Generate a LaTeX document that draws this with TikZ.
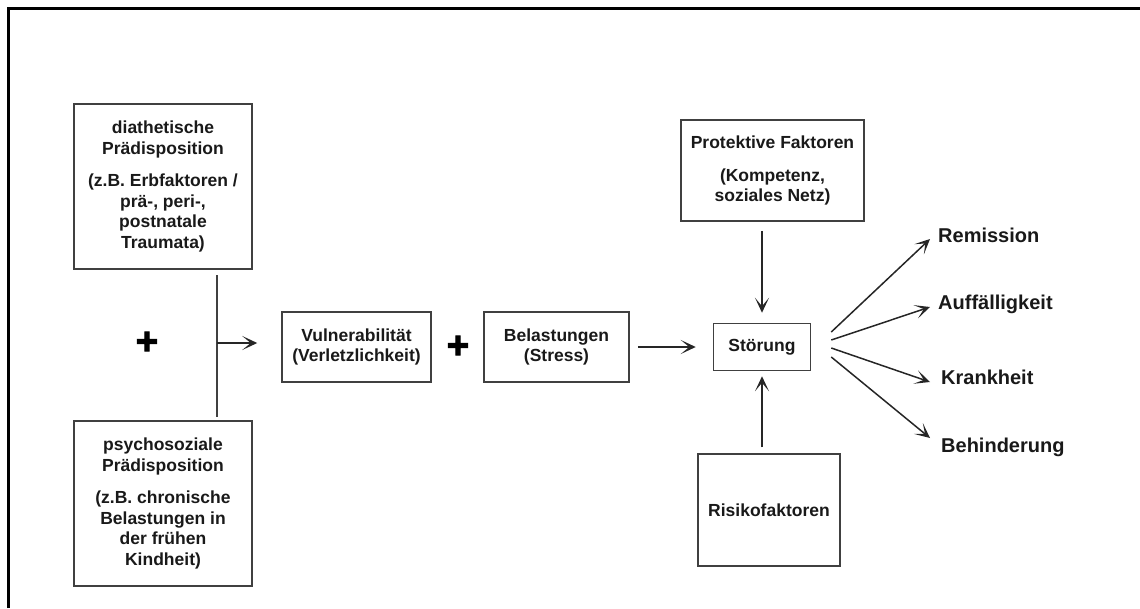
\documentclass[tikz,border=0pt]{standalone}
\usepackage{fontspec}
\setmainfont{Liberation Sans}
\newfontfamily\plusfont[FakeBold=3]{Liberation Sans Bold}
\usetikzlibrary{arrows.meta}

\begin{document}
\begin{tikzpicture}[x=1pt,y=-1pt,
	kasten/.style={draw=black!75, line width=1.5pt, align=center, inner sep=0pt, text=black!90, font=\bfseries\fontsize{17.5}{20.5}\selectfont},
	pfeil/.style={draw=black!85, line width=1.5pt, -{Stealth[length=15pt,width=14pt,inset=8.5pt]}},
	ausgang/.style={anchor=west, inner sep=0pt, text height=15pt, text depth=4pt, text=black!90, font=\bfseries\fontsize{20}{24}\selectfont},
	pluszeichen/.style={inner sep=0pt, font=\plusfont\fontsize{38}{38}\selectfont}]
		\useasboundingbox (0,0) rectangle (1140,608);
		\draw[line width=3pt] (8,608) -- (8,8) -- (1140,8);

		\node[kasten, minimum width=178pt, minimum height=165pt] (diath) at (163,186.5) {diathetische\\Prädisposition\\[12pt](z.B. Erbfaktoren /\\prä-, peri-,\\postnatale\\Traumata)};
		\node[kasten, minimum width=178pt, minimum height=165pt] (psych) at (163,503.5) {psychosoziale\\Prädisposition\\[12pt](z.B. chronische\\Belastungen in\\der frühen\\Kindheit)};
		\node[pluszeichen] (plusa) at (147,343) {+};
		\node[kasten, minimum width=149pt, minimum height=70pt] (vul) at (356.5,347) {Vulnerabilität\\(Verletzlichkeit)};
		\node[pluszeichen] (plusb) at (458,347) {+};
		\node[kasten, minimum width=145pt, minimum height=70pt] (bel) at (556.5,347) {Belastungen\\(Stress)};
		\node[kasten, minimum width=97pt, minimum height=47pt] (stoer) at (762,347) {Störung};
		\node[kasten, minimum width=183pt, minimum height=101pt] (prot) at (772.5,170.5) {Protektive Faktoren\\[12pt](Kompetenz,\\soziales Netz)};
		\node[kasten, minimum width=142pt, minimum height=112pt] (risk) at (769,510) {Risikofaktoren};

		\node[ausgang] (rem) at (938,236.5) {Remission};
		\node[ausgang] (auff) at (938,303.5) {Auffälligkeit};
		\node[ausgang] (krank) at (941,378.5) {Krankheit};
		\node[ausgang] (beh) at (941,446.5) {Behinderung};

		\coordinate (jt) at (217,275);
		\coordinate (jb) at (217,417);
		\coordinate (jm) at (217,343);
		\draw[draw=black!75, line width=1.2pt] (jt) -- (jb);
		\draw[pfeil, shorten >=24pt] (jm) -- (jm -| vul.west);

		\draw[pfeil, shorten <=8pt, shorten >=17pt] (bel.east) -- (stoer.west);
		\draw[pfeil, shorten <=9pt, shorten >=10pt] (stoer.north |- prot.south) -- (stoer.north);
		\draw[pfeil, shorten <=6pt, shorten >=5pt] (stoer.south |- risk.north) -- (stoer.south);

		\draw[pfeil] ([xshift=20pt,yshift=15pt]stoer.east) -- ([xshift=-8pt,yshift=-2.5pt]rem.west);
		\draw[pfeil] ([xshift=20pt,yshift=7pt]stoer.east) -- ([xshift=-8pt,yshift=-3.5pt]auff.west);
		\draw[pfeil] ([xshift=20pt,yshift=-1pt]stoer.east) -- ([xshift=-11pt,yshift=-3.5pt]krank.west);
		\draw[pfeil] ([xshift=20pt,yshift=-10pt]stoer.east) -- ([xshift=-11pt,yshift=8.5pt]beh.west);
\end{tikzpicture}
\end{document}
